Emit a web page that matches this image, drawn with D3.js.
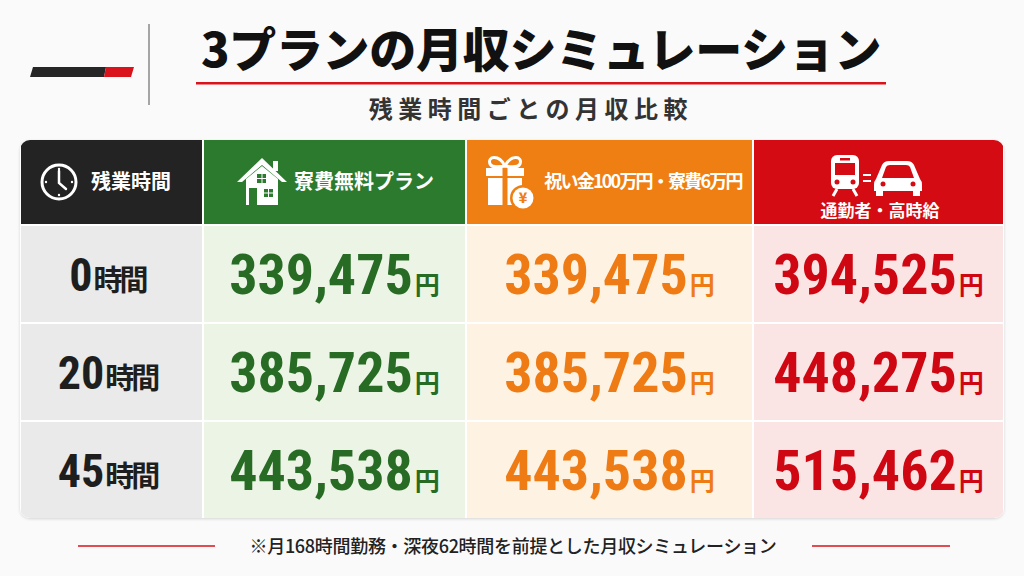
<!DOCTYPE html>
<html>
<head>
<meta charset="utf-8">
<script src="https://cdn.jsdelivr.net/npm/d3@7"></script>
<style>
  body { margin: 0; background: #fafafa; }
  svg { display: block; }
  .jp { font-family: "Noto Sans CJK JP", "Noto Sans", sans-serif; }
  .num { font-family: "Liberation Sans Narrow", "Roboto Condensed", "DejaVu Sans Condensed", "Noto Sans CJK JP", sans-serif; }
</style>
</head>
<body>
<div id="container"></div>
<script>
/* DATA */
const hours = ["0時間", "20時間", "45時間"]
const hourNums = ["0", "20", "45"]
const plans = ["残業時間", "寮費無料プラン", "祝い金100万円・寮費6万円", "通勤者・高時給"]
const freeDormValues = [339475, 385725, 443538]
const bonusValues = [339475, 385725, 443538]
const commuterValues = [394525, 448275, 515462]
const titleText = "3プランの月収シミュレーション"
const subtitleText = "残業時間ごとの月収比較"
const noteText = "※月168時間勤務・深夜62時間を前提とした月収シミュレーション"

/* LAYOUT */
const width = 1024, height = 576
const table = { left: 20, right: 1004, top: 140, head: 224, bottom: 518 }
const colWidths = [183, 263, 287, 251]
const headColors = ["#232323", "#2b7a2e", "#ef7f12", "#d50b14"]
const bodyColors = ["#eaeaea", "#ebf4e5", "#fef2e3", "#fbe4e4"]
const textColors = ["#1e1e1e", "#276b24", "#ee7b14", "#cf0712"]

const colLeft = []
colWidths.reduce((acc, w, i) => { colLeft[i] = acc; return acc + w }, table.left)

const xScale = d3.scaleOrdinal().domain(plans).range(colLeft)
const wScale = d3.scaleOrdinal().domain(plans).range(colWidths)
const yScale = d3.scaleBand()
  .domain(hours)
  .range([table.head + 2, table.bottom])
  .paddingInner(0.02)

const fmt = d3.format(",")

const svg = d3.select("#container")
  .append("svg")
  .attr("width", width)
  .attr("height", height)

svg.append("rect").attr("width", width).attr("height", height).attr("fill", "#fafafa")

/* HEADER DECORATION */
svg.append("path")
  .attr("d", "M33,67 L106,67 L104,77 L30,77 Z")
  .attr("fill", "#262626")
svg.append("path")
  .attr("d", "M106,67 L134,67 L131,77 L104,77 Z")
  .attr("fill", "#d9121b")
svg.append("line")
  .attr("x1", 149).attr("x2", 149).attr("y1", 24).attr("y2", 105)
  .attr("stroke", "#888").attr("stroke-width", 1.5)

svg.append("text")
  .attr("class", "jp")
  .attr("x", 541).attr("y", 67)
  .attr("text-anchor", "middle")
  .style("font-size", "47px").style("font-weight", 900)
  .style("letter-spacing", "-0.3px")
  .attr("fill", "#111")
  .text(titleText)

svg.append("rect")
  .attr("x", 196).attr("y", 82).attr("width", 690).attr("height", 2.5)
  .attr("fill", "#d9121b")

svg.append("text")
  .attr("class", "jp")
  .attr("x", 531).attr("y", 118)
  .attr("text-anchor", "middle")
  .style("font-size", "24px").style("font-weight", 700)
  .style("letter-spacing", "5.5px")
  .attr("fill", "#333")
  .text(subtitleText)

/* TABLE */
const defs = svg.append("defs")
defs.append("clipPath").attr("id", "tableClip")
  .append("rect")
  .attr("x", table.left).attr("y", table.top)
  .attr("width", table.right - table.left).attr("height", table.bottom - table.top)
  .attr("rx", 10)

defs.append("filter").attr("id", "shadow")
  .append("feDropShadow")
  .attr("dx", 0).attr("dy", 1).attr("stdDeviation", 1.5)
  .attr("flood-color", "#000").attr("flood-opacity", 0.15)

svg.append("rect")
  .attr("x", table.left).attr("y", table.top)
  .attr("width", table.right - table.left).attr("height", table.bottom - table.top)
  .attr("rx", 10).attr("fill", "#fff")
  .attr("filter", "url(#shadow)")

const tbl = svg.append("g").attr("clip-path", "url(#tableClip)")

// header cells
tbl.selectAll(".headCell")
  .data(plans)
  .join("rect")
  .attr("class", "headCell")
  .attr("x", d => xScale(d) + 1)
  .attr("y", table.top)
  .attr("width", d => wScale(d) - 2)
  .attr("height", table.head - table.top)
  .attr("fill", (d, i) => headColors[i])

// body cells
const cells = []
hours.forEach(h => plans.forEach((p, i) => cells.push({ h, p, i })))
tbl.selectAll(".bodyCell")
  .data(cells)
  .join("rect")
  .attr("class", "bodyCell")
  .attr("x", d => xScale(d.p) + 1)
  .attr("y", d => yScale(d.h))
  .attr("width", d => wScale(d.p) - 2)
  .attr("height", yScale.bandwidth())
  .attr("fill", d => bodyColors[d.i])

/* HEADER TEXT */
const head = svg.append("g").attr("fill", "#fff")
const hy = (table.top + table.head) / 2

head.append("text").attr("class", "jp")
  .attr("x", 131).attr("y", hy + 7)
  .attr("text-anchor", "middle")
  .style("font-size", "20px").style("font-weight", 700)
  .text(plans[0])

head.append("text").attr("class", "jp")
  .attr("x", 364).attr("y", hy + 7)
  .attr("text-anchor", "middle")
  .style("font-size", "20px").style("font-weight", 700)
  .text(plans[1])

head.append("text").attr("class", "jp")
  .attr("x", 643).attr("y", hy + 6)
  .attr("text-anchor", "middle")
  .style("font-size", "18px").style("font-weight", 700)
  .style("letter-spacing", "-1.8px")
  .text(plans[2])

head.append("text").attr("class", "jp")
  .attr("x", 880).attr("y", 217)
  .attr("text-anchor", "middle")
  .style("font-size", "17px").style("font-weight", 700)
  .text(plans[3])

// clock icon
const clock = svg.append("g").attr("transform", `translate(59,${hy})`)
clock.append("circle").attr("r", 17).attr("fill", "none").attr("stroke", "#fff").attr("stroke-width", 3)
clock.append("path").attr("d", "M0,-11 L0,1 L7,7")
  .attr("fill", "none").attr("stroke", "#fff").attr("stroke-width", 2.5).attr("stroke-linecap", "round")
clock.selectAll(".tick").data([[0, -13], [13, 0], [0, 13], [-13, 0]])
  .join("circle").attr("cx", d => d[0]).attr("cy", d => d[1]).attr("r", 1.2).attr("fill", "#fff")

// house icon
const house = svg.append("g").attr("transform", "translate(262,182)")
house.append("path")
  .attr("d", "M-25,0 L0,-24 L25,0 L20,0 L0,-17 L-20,0 Z")
  .attr("fill", "#fff")
house.append("rect").attr("x", 11).attr("y", -21).attr("width", 5).attr("height", 10).attr("fill", "#fff")
house.append("path")
  .attr("d", "M-16,-3 L0,-16 L16,-3 L16,23 L-16,23 Z")
  .attr("fill", "#fff")
house.append("rect").attr("x", -5).attr("y", -8).attr("width", 9).attr("height", 9).attr("fill", "#2b7a2e")
house.append("rect").attr("x", -13).attr("y", 6).attr("width", 8).attr("height", 17).attr("fill", "#2b7a2e")
house.append("rect").attr("x", 2).attr("y", 7).attr("width", 9).attr("height", 8).attr("fill", "#2b7a2e")
house.selectAll(".mul").data([[-0.5, -8, 1, 9], [-5, -4, 9, 1], [6, 7, 1, 8], [2, 10.5, 9, 1]])
  .join("rect").attr("x", d => d[0]).attr("y", d => d[1]).attr("width", d => d[2]).attr("height", d => d[3]).attr("fill", "#fff")

// gift icon
const gift = svg.append("g").attr("transform", "translate(505,182)")
gift.append("path")
  .attr("d", "M0,-16 C-6,-28 -18,-26 -15,-18 C-13,-14 -6,-15 0,-16 C6,-15 13,-14 15,-18 C18,-26 6,-28 0,-16")
  .attr("fill", "none").attr("stroke", "#fff").attr("stroke-width", 3)
gift.append("rect").attr("x", -19).attr("y", -14).attr("width", 38).attr("height", 8).attr("fill", "#fff")
gift.append("rect").attr("x", -17).attr("y", -4).attr("width", 34).attr("height", 27).attr("fill", "#fff")
gift.append("rect").attr("x", -2.5).attr("y", -14).attr("width", 5).attr("height", 37).attr("fill", "#ef7f12")
gift.append("rect").attr("x", -17).attr("y", -6).attr("width", 34).attr("height", 2).attr("fill", "#ef7f12")
gift.append("circle").attr("cx", 18).attr("cy", 16).attr("r", 13).attr("fill", "#ef7f12")
gift.append("circle").attr("cx", 18).attr("cy", 16).attr("r", 10.5).attr("fill", "#fff")
gift.append("text").attr("x", 18).attr("y", 21).attr("text-anchor", "middle")
  .attr("class", "jp").style("font-size", "14px").style("font-weight", 900).attr("fill", "#ef7f12").text("¥")

// train = car icon
const tc = svg.append("g").attr("transform", "translate(880,177)")
tc.append("rect").attr("x", -49).attr("y", -22).attr("width", 28).attr("height", 34).attr("rx", 6).attr("fill", "#fff")
tc.append("rect").attr("x", -45).attr("y", -14).attr("width", 20).attr("height", 12).attr("fill", "#d50b14")
tc.append("rect").attr("x", -40).attr("y", -19).attr("width", 10).attr("height", 2.5).attr("fill", "#d50b14")
tc.append("circle").attr("cx", -43).attr("cy", 5).attr("r", 2.5).attr("fill", "#d50b14")
tc.append("circle").attr("cx", -27).attr("cy", 5).attr("r", 2.5).attr("fill", "#d50b14")
tc.append("path").attr("d", "M-43,12 L-47,19 M-27,12 L-23,19")
  .attr("stroke", "#fff").attr("stroke-width", 3)
tc.append("path").attr("d", "M-17,-2 L-9,-2 M-17,4 L-9,4").attr("stroke", "#fff").attr("stroke-width", 2)
tc.append("path")
  .attr("d", "M-4,2 L2,-12 Q4,-16 9,-16 L27,-16 Q32,-16 34,-12 L40,2 Q42,4 42,8 L42,14 L-6,14 L-6,8 Q-6,4 -4,2 Z")
  .attr("fill", "#fff")
tc.append("path").attr("d", "M2,1 L6,-10 Q7,-12 10,-12 L26,-12 Q29,-12 30,-10 L34,1 Z").attr("fill", "#d50b14")
tc.append("circle").attr("cx", 3).attr("cy", 7).attr("r", 2.5).attr("fill", "#d50b14")
tc.append("circle").attr("cx", 33).attr("cy", 7).attr("r", 2.5).attr("fill", "#d50b14")
tc.append("rect").attr("x", -4).attr("y", 13).attr("width", 7).attr("height", 6).attr("fill", "#fff")
tc.append("rect").attr("x", 33).attr("y", 13).attr("width", 7).attr("height", 6).attr("fill", "#fff")

/* BODY TEXT */
const rowLabels = svg.selectAll(".rowLabel")
  .data(hours)
  .join("text")
  .attr("class", "rowLabel jp")
  .attr("x", xScale(plans[0]) + wScale(plans[0]) / 2 - 4)
  .attr("y", d => yScale(d) + yScale.bandwidth() / 2 + 17)
  .attr("text-anchor", "middle")
  .attr("fill", textColors[0])
  .style("font-weight", 700)
rowLabels.append("tspan").attr("class", "num").style("font-size", "46px").text((d, i) => hourNums[i])
rowLabels.append("tspan").attr("dx", 1).style("font-size", "29px").style("letter-spacing", "-3px")
  .text(d => d.replace(/^\d+/, ""))

const series = [freeDormValues, bonusValues, commuterValues]
const valueCells = []
series.forEach((vals, s) => vals.forEach((v, r) => valueCells.push({ v, h: hours[r], p: plans[s + 1], i: s + 1 })))

const vt = svg.selectAll(".value")
  .data(valueCells)
  .join("text")
  .attr("class", "value")
  .attr("x", d => xScale(d.p) + wScale(d.p) / 2)
  .attr("y", d => yScale(d.h) + yScale.bandwidth() / 2 + 20)
  .attr("text-anchor", "middle")
  .attr("fill", d => textColors[d.i])
  .style("font-weight", 700)
vt.append("tspan").attr("class", "num").style("font-size", "56px").text(d => fmt(d.v))
vt.append("tspan").attr("class", "jp").attr("dx", 2).style("font-size", "25px").text("円")

/* FOOTNOTE */
svg.selectAll(".noteLine")
  .data([[78, 215], [812, 950]])
  .join("line")
  .attr("class", "noteLine")
  .attr("x1", d => d[0]).attr("x2", d => d[1])
  .attr("y1", 546).attr("y2", 546)
  .attr("stroke", "#d9121b").attr("stroke-width", 1.5)

svg.append("text")
  .attr("class", "jp")
  .attr("x", 513).attr("y", 553)
  .attr("text-anchor", "middle")
  .style("font-size", "18px").style("font-weight", 500)
  .style("letter-spacing", "-0.3px")
  .attr("fill", "#222")
  .text(noteText)
</script>
</body>
</html>
